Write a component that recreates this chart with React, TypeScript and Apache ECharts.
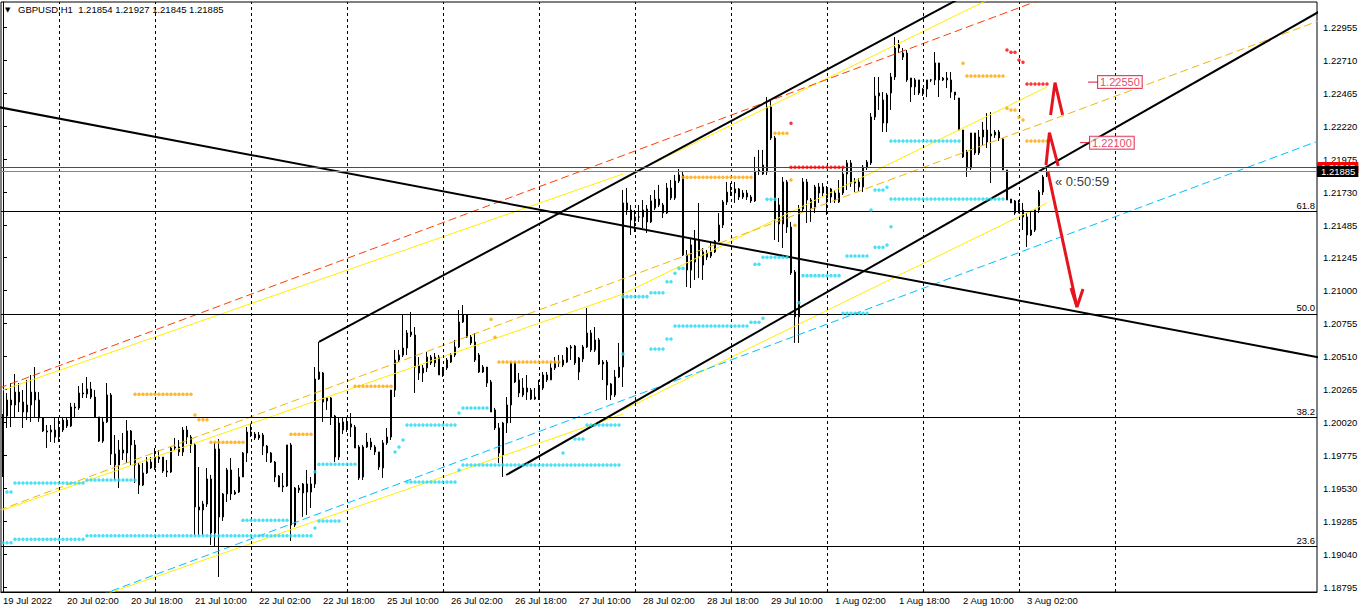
import React, { useEffect, useRef } from "react";
import * as echarts from "echarts";

// ---------- time axis ----------
const DAYS = ["19 Jul", "20 Jul", "21 Jul", "22 Jul", "25 Jul", "26 Jul", "27 Jul", "28 Jul", "29 Jul", "1 Aug", "2 Aug", "3 Aug"];
const FIRST_HOUR = 10;
const YEAR = "2022";
const SLOTS = 329; // bar slots across the plot incl. empty right margin
const LABEL_EVERY = 16;
const DAY_SEPARATORS = [14, 38, 62, 86, 110, 134, 158, 182, 206, 230, 254, 278];

// ---------- price axis ----------
const Y_MIN = 1.187614;
const Y_MAX = 1.231451;
const Y_TICKS = [1.22955, 1.2271, 1.22465, 1.2222, 1.21975, 1.2173, 1.21485, 1.21245, 1.21, 1.20755, 1.2051, 1.20265, 1.2002, 1.19775, 1.1953, 1.19285, 1.1904, 1.18795];

// ---------- candles (GBPUSD H1) ----------
const OPEN = [1.19683,1.20069,1.20188,1.20151,1.20247,1.20173,1.20099,1.20151,1.20247,1.20188,1.20054,1.19958,1.1995,1.19965,1.19913,1.19965,1.20039,1.19995,1.20136,1.20129,1.2024,1.20233,1.2027,1.2021,1.20062,1.19883,1.20025,1.20225,1.19787,1.19705,1.19816,1.19794,1.19958,1.19854,1.19705,1.19556,1.19646,1.19727,1.19683,1.1975,1.19764,1.1966,1.19653,1.19831,1.19839,1.19802,1.19965,1.19913,1.19854,1.19393,1.19371,1.19415,1.19601,1.192,1.19824,1.19319,1.1949,1.19668,1.1949,1.19504,1.19616,1.19794,1.1995,1.19935,1.19906,1.19928,1.19846,1.19794,1.19727,1.19623,1.19542,1.19549,1.19854,1.19259,1.19519,1.19497,1.19564,1.19504,1.19564,1.20344,1.20389,1.20181,1.20203,1.20069,1.19764,1.19965,1.20017,1.2001,1.19987,1.19839,1.19616,1.19839,1.19876,1.19839,1.19802,1.19683,1.19869,1.19913,1.20262,1.20485,1.20522,1.20574,1.20671,1.20671,1.20441,1.20389,1.20426,1.20507,1.20463,1.20507,1.20374,1.20426,1.2047,1.20522,1.20582,1.20768,1.2082,1.20656,1.20619,1.20522,1.20396,1.20433,1.20322,1.20114,1.1998,1.19779,1.20017,1.20151,1.20463,1.20337,1.20225,1.20277,1.20262,1.20195,1.20203,1.20277,1.20374,1.20337,1.20426,1.2047,1.20448,1.2047,1.20574,1.20589,1.20396,1.20493,1.20582,1.20686,1.20634,1.20634,1.20455,1.2047,1.20307,1.20225,1.20359,1.20433,1.21652,1.216,1.21518,1.21548,1.21548,1.21607,1.21511,1.21615,1.21681,1.21637,1.21577,1.21763,1.21689,1.21815,1.2186,1.21265,1.21154,1.21213,1.21377,1.21191,1.2128,1.21258,1.21288,1.21369,1.21488,1.21659,1.21733,1.21726,1.21756,1.21696,1.21726,1.21696,1.21667,1.21889,1.21867,1.21882,1.22365,1.22135,1.21637,1.21496,1.21808,1.21473,1.21139,1.20806,1.21607,1.21808,1.21674,1.21615,1.21771,1.21726,1.21756,1.21696,1.21726,1.21659,1.21726,1.21867,1.21949,1.218,1.21808,1.21771,1.21919,1.21949,1.22291,1.22447,1.22417,1.22246,1.22469,1.22588,1.22803,1.22766,1.22766,1.2258,1.22514,1.22566,1.22499,1.22499,1.22566,1.22566,1.22692,1.22566,1.2258,1.22566,1.22476,1.22432,1.22194,1.22031,1.21912,1.22172,1.22023,1.22142,1.22194,1.2215,1.22157,1.22179,1.22127,1.21897,1.21681,1.21667,1.21577,1.216,1.21548,1.21414,1.21451,1.216,1.21733,1.21854];
const CLOSE = [1.20069,1.20188,1.20151,1.20247,1.20173,1.20099,1.20151,1.20247,1.20188,1.20054,1.19958,1.1995,1.19965,1.19913,1.19965,1.20039,1.19995,1.20136,1.20129,1.2024,1.20233,1.2027,1.2021,1.20062,1.19883,1.20025,1.20225,1.19787,1.19705,1.19816,1.19794,1.19958,1.19854,1.19705,1.19556,1.19646,1.19727,1.19683,1.1975,1.19764,1.1966,1.19653,1.19831,1.19839,1.19802,1.19965,1.19913,1.19854,1.19393,1.19371,1.19415,1.19601,1.192,1.19824,1.19319,1.1949,1.19668,1.1949,1.19504,1.19616,1.19794,1.1995,1.19943,1.19906,1.19928,1.19846,1.19794,1.19727,1.19616,1.19542,1.19549,1.19854,1.19259,1.19534,1.19534,1.19564,1.19504,1.19564,1.20344,1.20396,1.20173,1.20203,1.20062,1.19764,1.20017,1.20025,1.1998,1.19987,1.19831,1.19609,1.19839,1.19876,1.19839,1.19802,1.1969,1.19869,1.19913,1.20262,1.20485,1.20522,1.20574,1.20686,1.20693,1.20433,1.20389,1.20426,1.20507,1.20463,1.20507,1.20374,1.20426,1.20485,1.20522,1.20582,1.20768,1.2082,1.20656,1.20612,1.20485,1.20396,1.20433,1.20314,1.20099,1.1998,1.19794,1.20017,1.20151,1.20463,1.20322,1.2024,1.20277,1.20247,1.20195,1.2021,1.20277,1.20374,1.20337,1.20426,1.20463,1.20463,1.20485,1.20574,1.20582,1.20463,1.205,1.20582,1.20686,1.2056,1.2056,1.20455,1.2047,1.20299,1.20225,1.20359,1.20433,1.21652,1.216,1.21525,1.21548,1.21548,1.216,1.21511,1.21667,1.21681,1.21637,1.21577,1.21763,1.21689,1.21815,1.2186,1.21265,1.21154,1.2134,1.21377,1.21258,1.21288,1.2125,1.21288,1.21369,1.21488,1.21659,1.21733,1.21726,1.21756,1.21696,1.21726,1.21696,1.21667,1.21889,1.21897,1.21934,1.22365,1.22135,1.21525,1.21496,1.21808,1.21473,1.21132,1.20806,1.21607,1.21808,1.21674,1.21615,1.21771,1.21726,1.21771,1.21689,1.21756,1.21674,1.21726,1.21867,1.21949,1.218,1.21808,1.21771,1.21919,1.21956,1.22291,1.22447,1.22469,1.22246,1.22454,1.22588,1.22803,1.22826,1.22736,1.22566,1.22514,1.22566,1.22469,1.22462,1.22566,1.22566,1.22692,1.22566,1.2258,1.22566,1.22476,1.22454,1.22194,1.21994,1.21912,1.22172,1.22023,1.22142,1.22194,1.22105,1.22164,1.22179,1.22135,1.21897,1.21674,1.21652,1.21577,1.21652,1.21548,1.21414,1.21451,1.216,1.21733,1.21845,1.21885];
const HIGH = [1.20084,1.2024,1.20314,1.20381,1.20314,1.20262,1.20337,1.20374,1.20433,1.20247,1.20054,1.20002,1.20002,1.20054,1.20054,1.20062,1.20062,1.20166,1.20166,1.20292,1.20314,1.20359,1.20322,1.20262,1.20062,1.20062,1.20314,1.2024,1.19928,1.19891,1.19943,1.20039,1.19965,1.19891,1.1972,1.1972,1.19764,1.19764,1.19831,1.19816,1.19764,1.19742,1.19839,1.19906,1.19891,1.19987,1.19995,1.19928,1.19869,1.1969,1.19438,1.19683,1.19631,1.19869,1.19898,1.19497,1.19683,1.19757,1.19519,1.19683,1.19802,1.19987,1.20017,1.1995,1.1995,1.19943,1.19854,1.19802,1.19735,1.19631,1.19646,1.19854,1.19869,1.19542,1.19556,1.19571,1.19668,1.19616,1.20433,1.20619,1.20396,1.2021,1.2021,1.20077,1.20054,1.20054,1.20062,1.20091,1.20002,1.19854,1.19854,1.19943,1.19906,1.19854,1.19802,1.19891,1.1998,1.20262,1.2056,1.2056,1.2082,1.20708,1.20842,1.2073,1.20507,1.20448,1.20545,1.20522,1.20537,1.20522,1.20433,1.205,1.20537,1.20634,1.20857,1.20894,1.2082,1.20671,1.20686,1.20537,1.20448,1.20433,1.20337,1.20129,1.20017,1.20025,1.2021,1.2047,1.2047,1.20389,1.20351,1.20374,1.20277,1.20277,1.20337,1.20396,1.20396,1.20463,1.20507,1.20522,1.20522,1.20582,1.20597,1.20597,1.20507,1.20597,1.20872,1.20708,1.2073,1.20649,1.20485,1.20485,1.20314,1.20411,1.20612,1.21748,1.21763,1.21637,1.216,1.21637,1.21674,1.21637,1.21711,1.21748,1.21786,1.21652,1.218,1.21823,1.2186,1.21904,1.21882,1.21302,1.21392,1.21451,1.21652,1.21317,1.21302,1.21355,1.21377,1.21577,1.21674,1.21808,1.218,1.21808,1.21763,1.21748,1.21748,1.21711,1.21994,1.22046,1.22046,1.22439,1.22417,1.2215,1.21689,1.21845,1.21823,1.21511,1.21154,1.21637,1.21837,1.2183,1.21689,1.21786,1.218,1.218,1.21778,1.21763,1.21748,1.21823,1.21912,1.21971,1.21971,1.21837,1.21837,1.21934,1.21971,1.2232,1.22588,1.22588,1.22476,1.22469,1.22618,1.22885,1.22863,1.22803,1.22788,1.2258,1.2258,1.22566,1.22506,1.22566,1.22573,1.22774,1.22692,1.22588,1.22625,1.22625,1.22476,1.22432,1.22194,1.22046,1.22172,1.22172,1.22194,1.22254,1.2232,1.22328,1.22194,1.22194,1.22135,1.21897,1.21681,1.21674,1.21674,1.21652,1.21577,1.21585,1.216,1.21748,1.2186,1.21927];
const LOW = [1.19616,1.1998,1.19987,1.20054,1.20099,1.1998,1.20039,1.20025,1.20054,1.20025,1.1995,1.19831,1.19876,1.19869,1.19876,1.1995,1.1998,1.19987,1.20062,1.20114,1.20203,1.20203,1.20195,1.20062,1.19876,1.19869,1.20017,1.19705,1.19594,1.19534,1.19742,1.1972,1.19705,1.19571,1.1949,1.19549,1.19638,1.19675,1.19668,1.1972,1.19646,1.19616,1.19646,1.19816,1.19772,1.19772,1.19861,1.19794,1.19185,1.19185,1.19185,1.19393,1.19111,1.19103,1.18873,1.19289,1.1943,1.19445,1.19482,1.19497,1.19616,1.19727,1.19913,1.19891,1.19891,1.19779,1.19727,1.1972,1.19579,1.19542,1.19504,1.19542,1.1914,1.19244,1.19497,1.19319,1.19334,1.19386,1.19534,1.20337,1.20025,1.20114,1.20002,1.19727,1.19742,1.19935,1.1995,1.19913,1.19831,1.19594,1.19594,1.19831,1.19816,1.19779,1.19668,1.19609,1.19854,1.19891,1.2021,1.2047,1.20507,1.20522,1.20656,1.2024,1.20337,1.20322,1.20396,1.20448,1.20433,1.20374,1.20359,1.20411,1.20463,1.20507,1.20574,1.2076,1.20649,1.20597,1.2047,1.20389,1.20389,1.20285,1.20099,1.19965,1.1972,1.19616,1.19943,1.20017,1.20314,1.2021,1.2021,1.20188,1.20188,1.20188,1.20188,1.20262,1.20322,1.20337,1.20411,1.20433,1.20433,1.20463,1.20485,1.20448,1.20337,1.2047,1.20574,1.20545,1.20545,1.20448,1.20337,1.20188,1.20188,1.2021,1.20351,1.20285,1.21563,1.21414,1.21436,1.21511,1.21466,1.21429,1.21503,1.216,1.21622,1.2154,1.2157,1.21674,1.21674,1.218,1.21258,1.21028,1.2102,1.2108,1.21094,1.2108,1.21228,1.21243,1.2128,1.21362,1.21466,1.21637,1.21704,1.21652,1.21674,1.21681,1.21674,1.21652,1.21659,1.2186,1.2186,1.2186,1.2212,1.21377,1.21362,1.21317,1.21429,1.21117,1.20612,1.20612,1.21585,1.21503,1.21511,1.21577,1.21652,1.21696,1.21563,1.21652,1.21652,1.21652,1.21711,1.21748,1.21771,1.21733,1.21733,1.21733,1.21897,1.21934,1.22268,1.22343,1.22179,1.22179,1.22343,1.22566,1.22766,1.22714,1.22551,1.22402,1.22454,1.22454,1.22447,1.22439,1.22551,1.22528,1.22439,1.22558,1.22506,1.22432,1.22417,1.22194,1.21986,1.21845,1.21897,1.22008,1.22008,1.22083,1.2206,1.218,1.22135,1.22112,1.21897,1.21674,1.21652,1.21563,1.21577,1.21451,1.21325,1.21407,1.21436,1.21577,1.21711,1.21845];

const SYMBOL = "GBPUSD,H1";
const ASK = 1.21915;

// ---------- Fibonacci levels ----------
const FIB_NAMES = ["61.8", "50.0", "38.2", "23.6"];
const FIB_PRICES = [1.21592, 1.20827, 1.20059, 1.19098];

// ---------- drawn lines: [barIndex, price] ----------
const DESC_LINE = [[-1, 1.223635], [329, 1.205045]];
const UPPER_CHANNEL = [[79, 1.20619], [329, 1.246036]];
const LOWER_CHANNEL = [[125.8, 1.196307], [329, 1.230731]];
const RED_DASHED = [[-1, 1.202757], [329, 1.239335]];
const CYAN_DASHED = [[-1, 1.184576], [329, 1.221146]];
const GOLD_DASHED = [[-1, 1.193692], [329, 1.23006]];
// regression channel 1 (bars 0..155)
const REG1_MID = [[0, 1.193707], [155, 1.209756]];
const REG1_UP = [[0, 1.202623], [155, 1.218672]];
const REG1_LOW = [[0, 1.184791], [155, 1.20084]];
// regression channel 2 (bars 155..261)
const REG2_MID = [[155, 1.209756], [261, 1.225136]];
const REG2_UP = [[155, 1.218375], [261, 1.233755]];
const REG2_LOW = [[155, 1.201137], [261, 1.216517]];

// ---------- arrows ----------
const ARROW_UP_1 = [[261.9, 1.22306], [263, 1.22546], [264.9, 1.22306]];
const ARROW_UP_2 = [[260.75, 1.21934], [261.6, 1.22174], [263.8, 1.21927]];
const ARROW_DOWN = [[261.25, 1.21882], [268.5, 1.20879]];
const ARROW_DOWN_HEAD = [[267, 1.2102], [268.5, 1.20879], [270, 1.21013]];

// ---------- price labels ----------
const PRICE_LABEL_VALUES = [1.2255, 1.221];
const PRICE_LABEL_X = [273.75, 271.75];
const PRICE_LABEL_TICK_FROM = [271.25, 269.25];
const TIMER_TEXT = "\u00ab 0:50:59";
const TIMER_POS = [263, 1.2181];

// ---------- indicator dots: [fromBar, toBar, price] ----------
const CYAN_RUNS = [
  [1, 2, 1.19504], [3, 20, 1.19571], [21, 33, 1.19594], [0, 2, 1.19128], [3, 20, 1.19153], [21, 77, 1.1918],
  [60, 71, 1.19294], [78, 78, 1.19655], [78, 78, 1.19237], [79, 88, 1.1971], [79, 84, 1.19289],
  [98, 98, 1.19802], [99, 99, 1.19839], [100, 100, 1.19891], [101, 113, 1.20002], [114, 114, 1.20091],
  [115, 121, 1.20129], [101, 113, 1.19579], [114, 114, 1.19668], [115, 154, 1.19705], [140, 140, 1.19794],
  [143, 145, 1.19898], [146, 154, 1.20002], [155, 161, 1.20956], [162, 165, 1.20985], [166, 167, 1.21067],
  [168, 168, 1.21129], [169, 170, 1.21166], [155, 155, 1.2053], [162, 165, 1.20567], [166, 167, 1.20641],
  [168, 186, 1.20738], [187, 189, 1.20765], [190, 190, 1.20795], [188, 189, 1.21196], [190, 196, 1.21248],
  [191, 193, 1.21679], [199, 199, 1.20911], [200, 209, 1.21112], [210, 216, 1.20832], [211, 216, 1.21258],
  [217, 217, 1.216], [218, 220, 1.21323], [221, 221, 1.2134], [222, 222, 1.21476], [218, 220, 1.21748],
  [221, 221, 1.21768], [222, 250, 1.21681], [222, 239, 1.22112],
];
const ORANGE_RUNS = [
  [33, 47, 1.2023], [48, 48, 1.20077], [49, 51, 1.20042], [52, 60, 1.19874], [72, 77, 1.19933],
  [88, 97, 1.2029], [122, 122, 1.20788], [123, 123, 1.20654], [124, 139, 1.2047], [170, 187, 1.21843],
  [193, 196, 1.2217], [197, 197, 1.21823], [198, 198, 1.21486], [240, 240, 1.2269], [241, 250, 1.22595],
  [251, 251, 1.22355], [252, 253, 1.22343], [254, 254, 1.22289], [255, 255, 1.22268], [256, 261, 1.22112],
];
const RED_RUNS = [
  [197, 197, 1.22244], [197, 210, 1.21917], [251, 251, 1.22789], [252, 253, 1.22771], [254, 254, 1.22714],
  [255, 255, 1.22697], [256, 261, 1.22536],
];

const FONT = "'Liberation Sans', Arial, 'DejaVu Sans', sans-serif";

function buildCategories(): string[] {
  const cats: string[] = [];
  DAYS.forEach((d, di) => {
    for (let h = di === 0 ? FIRST_HOUR : 0; h < 24; h++) cats.push(`${d} ${String(h).padStart(2, "0")}:00`);
  });
  const out = cats.slice(0, OPEN.length);
  for (let i = out.length; i < SLOTS; i++) out.push(`future-${i}`);
  return out;
}

function expandRuns(runs: number[][]): number[][] {
  const pts: number[][] = [];
  runs.forEach(([s, e, p]) => {
    for (let i = s; i <= e; i++) pts.push([i, p]);
  });
  return pts;
}

function lineSeries(data: number[][], color: string, width: number, type: any = "solid", z = 4) {
  return {
    type: "line",
    xAxisIndex: 1,
    yAxisIndex: 0,
    data,
    symbol: "none",
    silent: true,
    clip: true,
    z,
    lineStyle: { color, width, type },
  };
}

export default function App() {
  const ref = useRef<HTMLDivElement>(null);
  useEffect(() => {
    if (!ref.current) return;
    const chart = echarts.init(ref.current, null, { renderer: "svg" });
    const cats = buildCategories();
    const n = OPEN.length;
    const candles = OPEN.map((o, i) => [o, CLOSE[i], LOW[i], HIGH[i]]);
    const last = n - 1;
    const bid = CLOSE[last];
    const title = `${SYMBOL}  ${OPEN[last].toFixed(5)} ${HIGH[last].toFixed(5)} ${LOW[last].toFixed(5)} ${CLOSE[last].toFixed(5)}`;
    const YELLOW = "#FFEE00";

    const option: any = {
      animation: false,
      backgroundColor: "#ffffff",
      grid: { left: 1, right: 45, top: 2, height: 590, show: true, borderColor: "#000", borderWidth: 1, backgroundColor: "#fff" },
      xAxis: [
        {
          type: "category",
          data: cats,
          boundaryGap: true,
          axisLine: { show: true, lineStyle: { color: "#000", width: 1 } },
          axisTick: { show: false },
          splitLine: { show: false },
          axisLabel: {
            interval: (i: number) => i % LABEL_EVERY === 0 && i < n,
            formatter: (v: string, i: number) => (i === 0 ? `${DAYS[0]} ${YEAR}` : v),
            align: "left",
            margin: 3,
            color: "#000",
            fontSize: 9.5,
            fontFamily: FONT,
          },
        },
        { type: "value", min: -0.5, max: SLOTS - 0.5, show: false },
      ],
      yAxis: {
        type: "value",
        position: "right",
        min: Y_MIN,
        max: Y_MAX,
        axisLine: { show: true, lineStyle: { color: "#000", width: 1 } },
        axisTick: { show: true, length: 4, customValues: Y_TICKS, lineStyle: { color: "#000" } },
        splitLine: { show: false },
        axisLabel: {
          customValues: Y_TICKS,
          formatter: (v: number) => v.toFixed(5),
          color: "#000",
          fontSize: 9.5,
          fontFamily: FONT,
          margin: 6,
        },
      },
      graphic: [
        { type: "text", left: 5, top: 6, style: { text: "\u25bc", fontSize: 7, fill: "#000", fontFamily: "'DejaVu Sans'" } },
        { type: "text", left: 18, top: 4, style: { text: title, fontSize: 9.5, fill: "#000", fontFamily: FONT } },
      ],
      series: [
        // day separators
        {
          type: "line",
          xAxisIndex: 1,
          data: [],
          z: 1,
          silent: true,
          markLine: {
            silent: true,
            symbol: "none",
            precision: 5,
            label: { show: false },
            lineStyle: { color: "#000", type: [3, 3], width: 1 },
            data: DAY_SEPARATORS.map((v) => ({ xAxis: v })),
          },
        },
        // fib levels
        {
          type: "line",
          xAxisIndex: 1,
          data: [],
          z: 2,
          silent: true,
          markLine: {
            silent: true,
            symbol: "none",
            precision: 5,
            lineStyle: { color: "#000", type: "solid", width: 1 },
            label: { show: true, position: "insideEndTop", distance: [2, 1], color: "#000", fontSize: 9.5, fontFamily: FONT },
            data: FIB_PRICES.map((p, i) => ({ yAxis: p, label: { formatter: FIB_NAMES[i] } })),
          },
        },
        // candles
        {
          type: "candlestick",
          xAxisIndex: 0,
          data: candles,
          barWidth: 2,
          z: 3,
          silent: true,
          itemStyle: { color: "#ffffff", color0: "#000000", borderColor: "#000000", borderColor0: "#000000", borderWidth: 1 },
        },
        lineSeries(REG1_UP, YELLOW, 1),
        lineSeries(REG1_MID, YELLOW, 1),
        lineSeries(REG1_LOW, YELLOW, 1),
        lineSeries(REG2_UP, YELLOW, 1),
        lineSeries(REG2_MID, YELLOW, 1),
        lineSeries(REG2_LOW, YELLOW, 1),
        lineSeries(GOLD_DASHED, "#F2B705", 1, [8, 4]),
        lineSeries(RED_DASHED, "#FF3D00", 1, [8, 4]),
        lineSeries(CYAN_DASHED, "#00BFFF", 1, [8, 4]),
        lineSeries(DESC_LINE, "#000", 2),
        lineSeries(UPPER_CHANNEL, "#000", 2),
        lineSeries(LOWER_CHANNEL, "#000", 2),
        // dots
        { type: "scatter", xAxisIndex: 1, data: expandRuns(CYAN_RUNS), symbol: "circle", symbolSize: 3.5, itemStyle: { color: "#1ED8F2" }, silent: true, z: 5 },
        { type: "scatter", xAxisIndex: 1, data: expandRuns(ORANGE_RUNS), symbol: "circle", symbolSize: 3.5, itemStyle: { color: "#FFA500" }, silent: true, z: 5 },
        { type: "scatter", xAxisIndex: 1, data: expandRuns(RED_RUNS), symbol: "circle", symbolSize: 3.5, itemStyle: { color: "#FF0000" }, silent: true, z: 5 },
        // arrows
        lineSeries(ARROW_UP_1, "#E5141E", 3, "solid", 6),
        lineSeries(ARROW_UP_2, "#E5141E", 3, "solid", 6),
        lineSeries(ARROW_DOWN, "#E5141E", 3, "solid", 6),
        lineSeries(ARROW_DOWN_HEAD, "#E5141E", 3, "solid", 6),
        // price label ticks
        ...PRICE_LABEL_VALUES.map((p, i) => lineSeries([[PRICE_LABEL_TICK_FROM[i], p], [PRICE_LABEL_X[i], p]], "#DC143C", 1, "solid", 6)),
        // price labels
        {
          type: "scatter",
          xAxisIndex: 1,
          symbolSize: 0,
          silent: true,
          z: 7,
          data: PRICE_LABEL_VALUES.map((p, i) => [PRICE_LABEL_X[i], p]),
          label: {
            show: true,
            position: "right",
            distance: 0,
            formatter: (pr: any) => pr.value[1].toFixed(5),
            color: "#DC143C",
            fontSize: 11,
            fontFamily: FONT,
            borderColor: "#DC143C",
            borderWidth: 1,
            backgroundColor: "#fff",
            padding: [1, 2, 0, 2],
          },
        },
        // timer
        {
          type: "scatter",
          xAxisIndex: 1,
          symbolSize: 0,
          silent: true,
          z: 7,
          data: [TIMER_POS],
          label: { show: true, position: "right", distance: 0, formatter: TIMER_TEXT, color: "#000", fontSize: 13, fontFamily: FONT },
        },
        // bid / ask lines
        {
          type: "line",
          xAxisIndex: 1,
          data: [],
          z: 8,
          silent: true,
          markLine: {
            silent: true,
            symbol: "none",
            precision: 5,
            data: [
              {
                yAxis: ASK,
                lineStyle: { color: "#FF0000", width: 1, type: "solid" },
                label: { show: true, position: "end", distance: 0, formatter: ASK.toFixed(5), color: "#fff", backgroundColor: "#FF0000", padding: [1, 3, 0, 4], fontSize: 9.5, fontFamily: FONT },
              },
              {
                yAxis: bid,
                lineStyle: { color: "#778899", width: 1, type: "solid" },
                label: { show: true, position: "end", distance: 0, formatter: bid.toFixed(5), color: "#fff", backgroundColor: "#000", padding: [1, 3, 0, 4], fontSize: 9.5, fontFamily: FONT },
              },
            ],
          },
        },
      ],
    };
    chart.setOption(option);
    return () => chart.dispose();
  }, []);
  return <div ref={ref} style={{ position: "fixed", left: 0, top: 0, width: 1362, height: 612, background: "#fff" }} />;
}
